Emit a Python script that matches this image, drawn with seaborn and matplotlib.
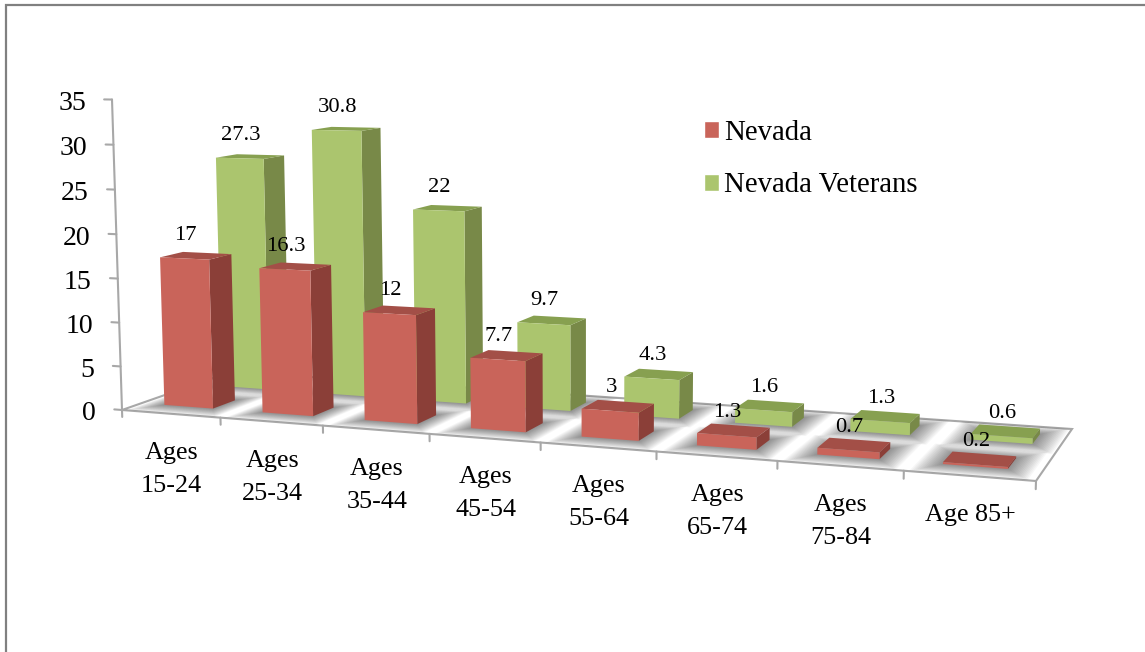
import numpy as np
import pandas as pd
import matplotlib
matplotlib.use("Agg")
import matplotlib.pyplot as plt
from matplotlib.lines import Line2D
from matplotlib.patches import Patch, Polygon
from matplotlib.transforms import Transform, Affine2D, IdentityTransform
import seaborn as sns

ages = ["Ages\n15-24", "Ages\n25-34", "Ages\n35-44", "Ages\n45-54",
        "Ages\n55-64", "Ages\n65-74", "Ages\n75-84", "Age 85+"]
nevada = [17, 16.3, 12, 7.7, 3, 1.3, 0.7, 0.2]
veterans = [27.3, 30.8, 22, 9.7, 4.3, 1.6, 1.3, 0.6]
y_ticks = [0, 5, 10, 15, 20, 25, 30, 35]

W, H = 1145, 652
RED = ("#C9645A", "#8B3F38", "#A34F47")
GREEN = ("#ABC56E", "#788948", "#87A050")
GRID = "#A8A8A8"
FONT = "Liberation Serif"

# perspective of the floor: pixel corners front-left, front-right, back-right, back-left
x0, y0, x1, y1, x2, y2, x3, y3 = 122, 410, 1036, 481, 1072, 429, 232, 371.5
dx1, dx2, sx = x1 - x2, x3 - x2, x0 - x1 + x2 - x3
dy1, dy2, sy = y1 - y2, y3 - y2, y0 - y1 + y2 - y3
det = dx1 * dy2 - dx2 * dy1
G = (sx * dy2 - dx2 * sy) / det
Hh = (dx1 * sy - sx * dy1) / det
A1, B1, C1 = x1 - x0 + G * x1, x3 - x0 + Hh * x3, x0
D1, E1, F1 = y1 - y0 + G * y1, y3 - y0 + Hh * y3, y0
VX, VY, VZ = -0.353, -8.93, -0.0006  # vertical axis column of the projection


def project(u, t, w):
    s = np.asarray(u, float) / len(ages)
    t = np.asarray(t, float)
    w = np.asarray(w, float)
    d = G * s + Hh * t + 1 + VZ * w
    return (A1 * s + B1 * t + C1 + VX * w) / d, (D1 * s + E1 * t + F1 + VY * w) / d


class Proj(Transform):
    """(category position, value) at a fixed floor depth -> display pixels."""
    input_dims = output_dims = 2
    is_affine = False
    has_inverse = False

    def __init__(self, floor_depth, shift=0.0):
        super().__init__()
        self.floor_depth = floor_depth
        self.shift = shift

    def transform_non_affine(self, values):
        v = np.asarray(values, float)
        px, py = project(v[:, 0] + 0.5 + self.shift, self.floor_depth, v[:, 1])
        return np.column_stack([px, H - py])


def disp(u, t, w):
    px, py = project(u, t, w)
    return float(px), float(H - py)


sns.set_theme(style="white")
plt.rcParams["font.family"] = [FONT, "DejaVu Sans"]

fig = plt.figure(figsize=(W / 100, H / 100), dpi=100, facecolor="white")
ax = fig.add_axes([0, 0, 1, 1])

df = pd.DataFrame({"age": ages, "Nevada": nevada, "Nevada Veterans": veterans})
BAR_W = 0.50
rows = [("Nevada Veterans", GREEN, 0.65, 0.85, 3, 0.03), ("Nevada", RED, 0.165, 0.365, 4, -0.012)]

for name, cols, t0, t1, z, shift in rows:
    n_before = len(ax.patches)
    sns.barplot(data=df, x="age", y=name, order=ages, color=cols[0], saturation=1,
                width=BAR_W, errorbar=None, ax=ax)
    tr = Proj(t0, shift)
    for p in list(ax.patches[n_before:]):
        p.set_transform(tr)
        p.set_zorder(z + 0.1)
        p.set_clip_on(False)
        p.set_edgecolor("none")
        xa = p.get_x() + 0.5 + shift
        xb = xa + p.get_width()
        h = p.get_height()
        for k in range(16):
            e = 0.0125 * (k + 1)
            corners = [disp(xa - e, t0 - e * .8, 0), disp(xb + e, t0 - e * .8, 0),
                       disp(xb + e, t1 + e * .8, 0), disp(xa - e, t1 + e * .8, 0)]
            ax.add_artist(Polygon(corners, closed=True, transform=IdentityTransform(),
                                  facecolor="black", edgecolor="none", alpha=0.03,
                                  zorder=1.5, clip_on=False))
        side = [disp(xb, t0, 0), disp(xb, t1, 0), disp(xb, t1, h), disp(xb, t0, h)]
        top = [disp(xa, t0, h), disp(xb, t0, h), disp(xb, t1, h), disp(xa, t1, h)]
        for poly, c in ((side, cols[1]), (top, cols[2])):
            ax.add_artist(Polygon(poly, closed=True, transform=IdentityTransform(),
                                  facecolor=c, edgecolor="none", zorder=z, clip_on=False))
        ax.text(p.get_x() + BAR_W / 2, h, f"{h:g}",
                transform=tr + Affine2D().translate(1, 23),
                ha="center", va="center", fontsize=16.2, color="black", zorder=6)

ax.set_xlim(-0.5, len(ages) - 0.5)
ax.set_ylim(0, 35)
ax.axis("off")

# floor and axis lines
lw = 1.5
n = len(ages)
floor = Line2D(*zip(*[disp(0, 0, 0), disp(n, 0, 0), disp(n, 1, 0), disp(0, 1, 0), disp(0, 0, 0)]),
               transform=IdentityTransform(), color=GRID, lw=lw, zorder=1, solid_joinstyle="miter")
ax.add_artist(floor)
ax.add_artist(Line2D(*zip(disp(0, 0, 0), disp(0, 0, max(y_ticks))), transform=IdentityTransform(),
                     color=GRID, lw=lw, zorder=1))
for v in y_ticks:
    ax.add_artist(Line2D(*zip(disp(0, 0, v), disp(-0.08, 0, v)), transform=IdentityTransform(),
                         color=GRID, lw=lw, zorder=1))
    ax.text(-0.5, v, str(v), transform=Proj(0) + Affine2D().translate(-26, -4),
            ha="right", va="center", fontsize=20, color="black", zorder=6)
for i in range(n + 1):
    ax.add_artist(Line2D(*zip(disp(i, 0, 0), disp(i, 0, -0.8)), transform=IdentityTransform(),
                         color=GRID, lw=lw, zorder=1))
for i, lab in enumerate(ages):
    ax.text(i, 0, lab, transform=Proj(0) + Affine2D().translate(1, -28),
            ha="center", va="top", fontsize=18.8, linespacing=1.66, color="black", zorder=6)

handles = [Patch(facecolor=RED[0], label="Nevada"), Patch(facecolor=GREEN[0], label="Nevada Veterans")]
ax.legend(handles=handles, loc="upper left", bbox_to_anchor=(704 / W, 1 - 120 / H),
          bbox_transform=fig.transFigure, frameon=False, fontsize=20.7, borderpad=0,
          borderaxespad=0, handlelength=0.52, handleheight=0.52, handletextpad=0.18,
          labelspacing=0.92, labelcolor="black")

# outer frame of the picture (open on the right and bottom, as cropped)
fig.add_artist(Line2D([6 / W, 6 / W, 1], [0, 1 - 5 / H, 1 - 5 / H], transform=fig.transFigure,
                      color="#808080", lw=1.6, solid_joinstyle="miter"))

fig.savefig("out.png", dpi=100, facecolor="white")
